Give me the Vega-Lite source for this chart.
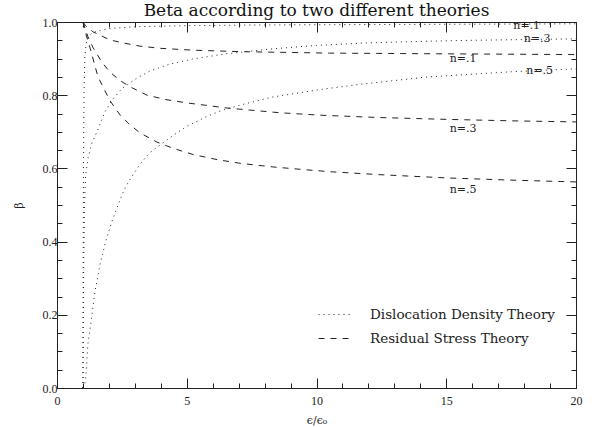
{
  "$schema": "https://vega.github.io/schema/vega-lite/v6.json",
  "width": 519,
  "height": 366,
  "autosize": {"type": "none"},
  "padding": {"left": 57, "top": 22, "right": 20, "bottom": 39},
  "background": "white",
  "title": {"text": "Beta according to two different theories", "font": "DejaVu Serif", "fontSize": 17, "fontWeight": "normal", "color": "#111", "anchor": "middle", "offset": 3, "dy": 7},
  "config": {"view": {"stroke": null}},
  "datasets": {
    "curves": [
      {"series": "DD1", "theory": "Dislocation Density Theory", "x": 1, "beta": 0},
      {"series": "DD1", "theory": "Dislocation Density Theory", "x": 1.01, "beta": 0.35},
      {"series": "DD1", "theory": "Dislocation Density Theory", "x": 1.02, "beta": 0.6},
      {"series": "DD1", "theory": "Dislocation Density Theory", "x": 1.04, "beta": 0.8},
      {"series": "DD1", "theory": "Dislocation Density Theory", "x": 1.07, "beta": 0.9},
      {"series": "DD1", "theory": "Dislocation Density Theory", "x": 1.12, "beta": 0.94},
      {"series": "DD1", "theory": "Dislocation Density Theory", "x": 1.2, "beta": 0.96},
      {"series": "DD1", "theory": "Dislocation Density Theory", "x": 1.4, "beta": 0.972},
      {"series": "DD1", "theory": "Dislocation Density Theory", "x": 2, "beta": 0.982},
      {"series": "DD1", "theory": "Dislocation Density Theory", "x": 3, "beta": 0.987},
      {"series": "DD1", "theory": "Dislocation Density Theory", "x": 5, "beta": 0.99},
      {"series": "DD1", "theory": "Dislocation Density Theory", "x": 8, "beta": 0.992},
      {"series": "DD1", "theory": "Dislocation Density Theory", "x": 12, "beta": 0.993},
      {"series": "DD1", "theory": "Dislocation Density Theory", "x": 16, "beta": 0.994},
      {"series": "DD1", "theory": "Dislocation Density Theory", "x": 20, "beta": 0.995},
      {"series": "DD3", "theory": "Dislocation Density Theory", "x": 1, "beta": 0},
      {"series": "DD3", "theory": "Dislocation Density Theory", "x": 1.01, "beta": 0.15},
      {"series": "DD3", "theory": "Dislocation Density Theory", "x": 1.03, "beta": 0.35},
      {"series": "DD3", "theory": "Dislocation Density Theory", "x": 1.06, "beta": 0.5},
      {"series": "DD3", "theory": "Dislocation Density Theory", "x": 1.1, "beta": 0.58},
      {"series": "DD3", "theory": "Dislocation Density Theory", "x": 1.2, "beta": 0.63},
      {"series": "DD3", "theory": "Dislocation Density Theory", "x": 1.35, "beta": 0.67},
      {"series": "DD3", "theory": "Dislocation Density Theory", "x": 1.54, "beta": 0.7},
      {"series": "DD3", "theory": "Dislocation Density Theory", "x": 1.85, "beta": 0.755},
      {"series": "DD3", "theory": "Dislocation Density Theory", "x": 2.16, "beta": 0.79},
      {"series": "DD3", "theory": "Dislocation Density Theory", "x": 2.5, "beta": 0.818},
      {"series": "DD3", "theory": "Dislocation Density Theory", "x": 3.08, "beta": 0.847},
      {"series": "DD3", "theory": "Dislocation Density Theory", "x": 3.58, "beta": 0.866},
      {"series": "DD3", "theory": "Dislocation Density Theory", "x": 4.35, "beta": 0.885},
      {"series": "DD3", "theory": "Dislocation Density Theory", "x": 5.24, "beta": 0.899},
      {"series": "DD3", "theory": "Dislocation Density Theory", "x": 6.5, "beta": 0.913},
      {"series": "DD3", "theory": "Dislocation Density Theory", "x": 8.2, "beta": 0.926},
      {"series": "DD3", "theory": "Dislocation Density Theory", "x": 10, "beta": 0.936},
      {"series": "DD3", "theory": "Dislocation Density Theory", "x": 12, "beta": 0.943},
      {"series": "DD3", "theory": "Dislocation Density Theory", "x": 14, "beta": 0.947},
      {"series": "DD3", "theory": "Dislocation Density Theory", "x": 16, "beta": 0.95},
      {"series": "DD3", "theory": "Dislocation Density Theory", "x": 18, "beta": 0.952},
      {"series": "DD3", "theory": "Dislocation Density Theory", "x": 20, "beta": 0.954},
      {"series": "DD5", "theory": "Dislocation Density Theory", "x": 1, "beta": 0},
      {"series": "DD5", "theory": "Dislocation Density Theory", "x": 1.08, "beta": 0.015},
      {"series": "DD5", "theory": "Dislocation Density Theory", "x": 1.12, "beta": 0.036},
      {"series": "DD5", "theory": "Dislocation Density Theory", "x": 1.19, "beta": 0.12},
      {"series": "DD5", "theory": "Dislocation Density Theory", "x": 1.31, "beta": 0.18},
      {"series": "DD5", "theory": "Dislocation Density Theory", "x": 1.46, "beta": 0.262},
      {"series": "DD5", "theory": "Dislocation Density Theory", "x": 1.66, "beta": 0.339},
      {"series": "DD5", "theory": "Dislocation Density Theory", "x": 1.89, "beta": 0.404},
      {"series": "DD5", "theory": "Dislocation Density Theory", "x": 2.12, "beta": 0.456},
      {"series": "DD5", "theory": "Dislocation Density Theory", "x": 2.35, "beta": 0.5},
      {"series": "DD5", "theory": "Dislocation Density Theory", "x": 2.58, "beta": 0.54},
      {"series": "DD5", "theory": "Dislocation Density Theory", "x": 2.77, "beta": 0.565},
      {"series": "DD5", "theory": "Dislocation Density Theory", "x": 3.2, "beta": 0.612},
      {"series": "DD5", "theory": "Dislocation Density Theory", "x": 3.58, "beta": 0.643},
      {"series": "DD5", "theory": "Dislocation Density Theory", "x": 4.05, "beta": 0.668},
      {"series": "DD5", "theory": "Dislocation Density Theory", "x": 4.47, "beta": 0.69},
      {"series": "DD5", "theory": "Dislocation Density Theory", "x": 5, "beta": 0.715},
      {"series": "DD5", "theory": "Dislocation Density Theory", "x": 5.78, "beta": 0.742},
      {"series": "DD5", "theory": "Dislocation Density Theory", "x": 6.4, "beta": 0.76},
      {"series": "DD5", "theory": "Dislocation Density Theory", "x": 7.17, "beta": 0.775},
      {"series": "DD5", "theory": "Dislocation Density Theory", "x": 8.3, "beta": 0.795},
      {"series": "DD5", "theory": "Dislocation Density Theory", "x": 10.1, "beta": 0.815},
      {"series": "DD5", "theory": "Dislocation Density Theory", "x": 11.7, "beta": 0.83},
      {"series": "DD5", "theory": "Dislocation Density Theory", "x": 14.3, "beta": 0.85},
      {"series": "DD5", "theory": "Dislocation Density Theory", "x": 17.5, "beta": 0.864},
      {"series": "DD5", "theory": "Dislocation Density Theory", "x": 20, "beta": 0.872},
      {"series": "RS1", "theory": "Residual Stress Theory", "x": 1, "beta": 1},
      {"series": "RS1", "theory": "Residual Stress Theory", "x": 1.1, "beta": 0.99},
      {"series": "RS1", "theory": "Residual Stress Theory", "x": 1.39, "beta": 0.973},
      {"series": "RS1", "theory": "Residual Stress Theory", "x": 2.04, "beta": 0.951},
      {"series": "RS1", "theory": "Residual Stress Theory", "x": 2.54, "beta": 0.943},
      {"series": "RS1", "theory": "Residual Stress Theory", "x": 3.2, "beta": 0.934},
      {"series": "RS1", "theory": "Residual Stress Theory", "x": 4, "beta": 0.928},
      {"series": "RS1", "theory": "Residual Stress Theory", "x": 5.24, "beta": 0.923},
      {"series": "RS1", "theory": "Residual Stress Theory", "x": 7.05, "beta": 0.919},
      {"series": "RS1", "theory": "Residual Stress Theory", "x": 10.5, "beta": 0.915},
      {"series": "RS1", "theory": "Residual Stress Theory", "x": 15, "beta": 0.913},
      {"series": "RS1", "theory": "Residual Stress Theory", "x": 20, "beta": 0.911},
      {"series": "RS3", "theory": "Residual Stress Theory", "x": 1, "beta": 1},
      {"series": "RS3", "theory": "Residual Stress Theory", "x": 1.19, "beta": 0.96},
      {"series": "RS3", "theory": "Residual Stress Theory", "x": 1.39, "beta": 0.93},
      {"series": "RS3", "theory": "Residual Stress Theory", "x": 1.73, "beta": 0.89},
      {"series": "RS3", "theory": "Residual Stress Theory", "x": 2.04, "beta": 0.863},
      {"series": "RS3", "theory": "Residual Stress Theory", "x": 2.47, "beta": 0.838},
      {"series": "RS3", "theory": "Residual Stress Theory", "x": 2.9, "beta": 0.82},
      {"series": "RS3", "theory": "Residual Stress Theory", "x": 3.47, "beta": 0.8},
      {"series": "RS3", "theory": "Residual Stress Theory", "x": 4.2, "beta": 0.788},
      {"series": "RS3", "theory": "Residual Stress Theory", "x": 5, "beta": 0.779},
      {"series": "RS3", "theory": "Residual Stress Theory", "x": 6.55, "beta": 0.765},
      {"series": "RS3", "theory": "Residual Stress Theory", "x": 8.6, "beta": 0.752},
      {"series": "RS3", "theory": "Residual Stress Theory", "x": 10.25, "beta": 0.745},
      {"series": "RS3", "theory": "Residual Stress Theory", "x": 12.4, "beta": 0.739},
      {"series": "RS3", "theory": "Residual Stress Theory", "x": 15, "beta": 0.734},
      {"series": "RS3", "theory": "Residual Stress Theory", "x": 17.5, "beta": 0.73},
      {"series": "RS3", "theory": "Residual Stress Theory", "x": 20, "beta": 0.727},
      {"series": "RS5", "theory": "Residual Stress Theory", "x": 1, "beta": 1},
      {"series": "RS5", "theory": "Residual Stress Theory", "x": 1.1, "beta": 0.97},
      {"series": "RS5", "theory": "Residual Stress Theory", "x": 1.27, "beta": 0.93},
      {"series": "RS5", "theory": "Residual Stress Theory", "x": 1.58, "beta": 0.85},
      {"series": "RS5", "theory": "Residual Stress Theory", "x": 2.04, "beta": 0.785},
      {"series": "RS5", "theory": "Residual Stress Theory", "x": 2.43, "beta": 0.746},
      {"series": "RS5", "theory": "Residual Stress Theory", "x": 2.81, "beta": 0.719},
      {"series": "RS5", "theory": "Residual Stress Theory", "x": 3.2, "beta": 0.697},
      {"series": "RS5", "theory": "Residual Stress Theory", "x": 3.85, "beta": 0.672},
      {"series": "RS5", "theory": "Residual Stress Theory", "x": 4.47, "beta": 0.655},
      {"series": "RS5", "theory": "Residual Stress Theory", "x": 5.24, "beta": 0.638},
      {"series": "RS5", "theory": "Residual Stress Theory", "x": 6.17, "beta": 0.624},
      {"series": "RS5", "theory": "Residual Stress Theory", "x": 7.05, "beta": 0.614},
      {"series": "RS5", "theory": "Residual Stress Theory", "x": 8.32, "beta": 0.604},
      {"series": "RS5", "theory": "Residual Stress Theory", "x": 9.63, "beta": 0.596},
      {"series": "RS5", "theory": "Residual Stress Theory", "x": 10.5, "beta": 0.591},
      {"series": "RS5", "theory": "Residual Stress Theory", "x": 12.4, "beta": 0.583},
      {"series": "RS5", "theory": "Residual Stress Theory", "x": 15, "beta": 0.574},
      {"series": "RS5", "theory": "Residual Stress Theory", "x": 17.5, "beta": 0.568},
      {"series": "RS5", "theory": "Residual Stress Theory", "x": 20, "beta": 0.563}
    ],
    "labels": [
      {"x": 18.1, "beta": 0.99, "text": "n=.1"},
      {"x": 18.5, "beta": 0.953, "text": "n=.3"},
      {"x": 18.6, "beta": 0.866, "text": "n=.5"},
      {"x": 15.65, "beta": 0.899, "text": "n=.1"},
      {"x": 15.65, "beta": 0.708, "text": "n=.3"},
      {"x": 15.65, "beta": 0.541, "text": "n=.5"}
    ]
  },
  "layer": [
    {
      "data": {"name": "curves"},
      "mark": {"type": "line", "color": "#222", "strokeWidth": 1},
      "encoding": {
        "x": {
          "field": "x", "type": "quantitative",
          "scale": {"domain": [0, 20], "nice": false, "zero": false},
          "axis": {
            "orient": "bottom",
            "values": [0,1,2,3,4,5,6,7,8,9,10,11,12,13,14,15,16,17,18,19,20],
            "labelExpr": "datum.value % 5 === 0 ? datum.label : ''",
            "labelOverlap": false, "labelFlush": false, "labelBound": false,
            "tickSize": {"condition": {"test": "datum.value % 5 === 0", "value": -10}, "value": -5},
            "labelFont": "Liberation Serif", "labelFontSize": 12, "labelColor": "#222", "labelPadding": 17,
            "title": "ϵ/ϵ₀", "titleFont": "DejaVu Serif", "titleFontSize": 11, "titleFontWeight": "normal", "titleColor": "#222", "titlePadding": 3,
            "grid": false, "domainColor": "#222", "tickColor": "#222"
          }
        },
        "y": {
          "field": "beta", "type": "quantitative",
          "scale": {"domain": [0, 1], "nice": false, "zero": false},
          "axis": {
            "orient": "left",
            "values": [0,0.05,0.1,0.15,0.2,0.25,0.3,0.35,0.4,0.45,0.5,0.55,0.6,0.65,0.7,0.75,0.8,0.85,0.9,0.95,1.0],
            "labelExpr": "abs(datum.value*5 - round(datum.value*5)) < 0.000001 ? format(datum.value, '.1f') : ''",
            "labelOverlap": false, "labelFlush": false, "labelBound": false,
            "tickSize": {"condition": {"test": "abs(datum.value*5 - round(datum.value*5)) < 0.000001", "value": -10}, "value": -5},
            "labelFont": "Liberation Serif", "labelFontSize": 12, "labelColor": "#222", "labelPadding": 10,
            "title": "β", "titleFont": "DejaVu Serif", "titleFontSize": 11, "titleFontWeight": "normal", "titleColor": "#222", "titlePadding": 18,
            "grid": false, "domainColor": "#222", "tickColor": "#222"
          }
        },
        "detail": {"field": "series"},
        "strokeDash": {
          "field": "theory", "type": "nominal",
          "scale": {"domain": ["Dislocation Density Theory", "Residual Stress Theory"], "range": [[1, 4], [6, 6]]},
          "legend": {
            "orient": "none", "legendX": 261, "legendY": 275, "title": null, "padding": 0,
            "symbolType": "stroke", "symbolSize": 1156, "symbolStrokeWidth": 1, "symbolStrokeColor": "#222",
            "labelFont": "DejaVu Serif", "labelFontSize": 13.5, "labelColor": "#222", "labelOffset": 17,
            "rowPadding": -15, "labelLimit": 300
          }
        }
      }
    },
    {
      "data": {"name": "labels"},
      "mark": {"type": "text", "font": "DejaVu Serif", "fontSize": 11, "color": "#222", "align": "center", "baseline": "middle"},
      "encoding": {
        "x": {
          "field": "x", "type": "quantitative",
          "scale": {"domain": [0, 20], "nice": false, "zero": false},
          "axis": {
            "orient": "top",
            "values": [0,1,2,3,4,5,6,7,8,9,10,11,12,13,14,15,16,17,18,19,20],
            "labels": false, "title": null, "grid": false,
            "tickSize": {"condition": {"test": "datum.value % 5 === 0", "value": -10}, "value": -5},
            "domainColor": "#222", "tickColor": "#222"
          }
        },
        "y": {
          "field": "beta", "type": "quantitative",
          "scale": {"domain": [0, 1], "nice": false, "zero": false},
          "axis": {
            "orient": "right",
            "values": [0,0.05,0.1,0.15,0.2,0.25,0.3,0.35,0.4,0.45,0.5,0.55,0.6,0.65,0.7,0.75,0.8,0.85,0.9,0.95,1.0],
            "labels": false, "title": null, "grid": false,
            "tickSize": {"condition": {"test": "abs(datum.value*5 - round(datum.value*5)) < 0.000001", "value": -10}, "value": -5},
            "domainColor": "#222", "tickColor": "#222"
          }
        },
        "text": {"field": "text"}
      }
    }
  ],
  "resolve": {"axis": {"x": "independent", "y": "independent"}}
}
